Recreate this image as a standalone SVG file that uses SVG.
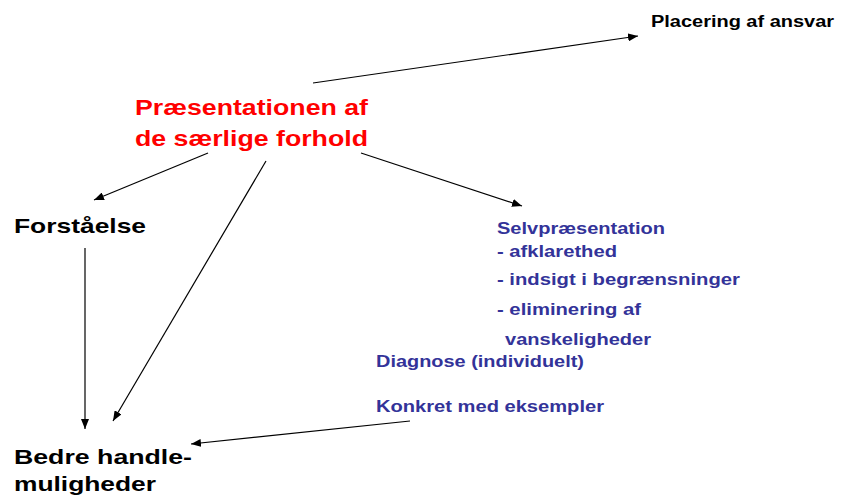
<svg xmlns="http://www.w3.org/2000/svg" width="843" height="495" viewBox="0 0 843 495">
  <style>
    text { font-family: "Liberation Sans", Arial, sans-serif; font-weight: bold; }
    .black { fill: #000000; }
    .red { fill: #ff0000; font-size: 22px; }
    .blue { fill: #333399; font-size: 16px; }
    .big { font-size: 21px; }
    .edge { stroke: #000000; stroke-width: 1.2; fill: none; marker-end: url(#arrow); }
  </style>
  <defs>
    <marker id="arrow" viewBox="0 0 10 8" refX="10" refY="4" markerWidth="10" markerHeight="8" markerUnits="userSpaceOnUse" orient="auto">
      <path d="M0,0 L10,4 L0,8 Z" fill="#000000"/>
    </marker>
  </defs>
  <rect width="843" height="495" fill="#ffffff"/>

  <g id="connectors">
    <line class="edge" x1="313" y1="83" x2="638" y2="36"/>
    <line class="edge" x1="208" y1="153" x2="94" y2="200"/>
    <line class="edge" x1="266" y1="161" x2="113" y2="421"/>
    <line class="edge" x1="361" y1="153" x2="522" y2="206"/>
    <line class="edge" x1="85" y1="248" x2="85" y2="429"/>
    <line class="edge" x1="410" y1="421" x2="191" y2="444"/>
  </g>

  <g id="node-placering">
    <text class="black" x="651" y="27" font-size="16" textLength="183" lengthAdjust="spacingAndGlyphs">Placering af ansvar</text>
  </g>

  <g id="node-praesentation">
    <text class="red" x="135" y="115" textLength="233" lengthAdjust="spacingAndGlyphs">Præsentationen af</text>
    <text class="red" x="135" y="146" textLength="233" lengthAdjust="spacingAndGlyphs">de særlige forhold</text>
  </g>

  <g id="node-forstaaelse">
    <text class="black big" x="14" y="233" textLength="132" lengthAdjust="spacingAndGlyphs">Forståelse</text>
  </g>

  <g id="node-selvpraesentation">
    <text class="blue" x="497" y="234" textLength="168" lengthAdjust="spacingAndGlyphs">Selvpræsentation</text>
    <text class="blue" x="497" y="257" textLength="120" lengthAdjust="spacingAndGlyphs">- afklarethed</text>
    <text class="blue" x="497" y="285" textLength="243" lengthAdjust="spacingAndGlyphs">- indsigt i begrænsninger</text>
    <text class="blue" x="497" y="315" textLength="144" lengthAdjust="spacingAndGlyphs">- eliminering af</text>
    <text class="blue" x="505" y="345" textLength="146" lengthAdjust="spacingAndGlyphs">vanskeligheder</text>
  </g>

  <g id="node-diagnose">
    <text class="blue" x="376" y="367" textLength="208" lengthAdjust="spacingAndGlyphs">Diagnose (individuelt)</text>
    <text class="blue" x="376" y="412" textLength="228" lengthAdjust="spacingAndGlyphs">Konkret med eksempler</text>
  </g>

  <g id="node-bedre">
    <text class="black big" x="14" y="464" textLength="178" lengthAdjust="spacingAndGlyphs">Bedre handle-</text>
    <text class="black big" x="14" y="491" textLength="142" lengthAdjust="spacingAndGlyphs">muligheder</text>
  </g>
</svg>
